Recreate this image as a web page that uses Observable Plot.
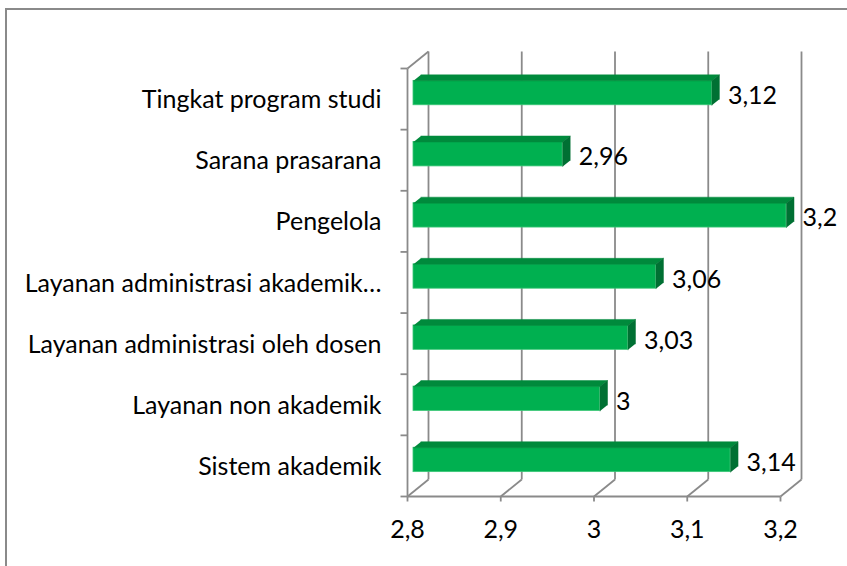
<!DOCTYPE html>
<html>
<head>
<meta charset="utf-8">
<script src="https://cdn.jsdelivr.net/npm/d3@7"></script>
<script src="https://cdn.jsdelivr.net/npm/@observablehq/plot@0.6"></script>
<style>
  html, body { margin: 0; padding: 0; background: #fff; overflow: hidden; }
  #wrap { position: relative; width: 847px; height: 566px; }
  #frame { position: absolute; left: 5px; top: 8px; width: 900px; height: 700px; border: 2px solid #8a8a8a; box-sizing: border-box; }
  #chart { position: absolute; left: 0; top: 0; }
</style>
</head>
<body>
<div id="wrap"><div id="frame"></div><div id="chart"></div></div>
<script>
// Categories listed bottom to top
const categories = ["Sistem akademik", "Layanan non akademik", "Layanan administrasi oleh dosen", "Layanan administrasi akademik…", "Pengelola", "Sarana prasarana", "Tingkat program studi"];
const values = [3.14, 3.00, 3.03, 3.06, 3.20, 2.96, 3.12];
const valueLabels = ["3,14", "3", "3,03", "3,06", "3,2", "2,96", "3,12"];
const xTicks = [2.8, 2.9, 3.0, 3.1, 3.2];
const xTickLabels = ["2,8", "2,9", "3", "3,1", "3,2"];

const W = 847, H = 566;
const mL = 407, mR = 67, mT = 68, mB = 70;
const xMin = 2.8, xMax = 3.2, n = categories.length;
const kx = (W - mL - mR) / (xMax - xMin);   // px per x unit
const ky = (H - mT - mB) / n;               // px per y unit
const px = p => p / kx, py = p => p / ky;

// 3D geometry (pixels converted to data units)
const wdx = px(21), wdy = py(17);   // wall depth
const bx = px(6), by = py(6);       // bar offset into depth
const bdx = px(7.5), bdy = py(6);   // bar depth
const bh = py(12.2);                // half bar thickness

const grid = "#8a8a8a", gw = 1.8;
const font = "Lato, 'Open Sans', sans-serif";
const fs = 25;

const bars = categories.map((c, i) => ({c, v: values[i], label: valueLabels[i], yc: i + 0.5 + by}));

const topFaces = bars.flatMap((d, i) => [
  {x: xMin + bx, y: d.yc + bh, z: i}, {x: d.v + bx, y: d.yc + bh, z: i},
  {x: d.v + bx + bdx, y: d.yc + bh + bdy, z: i}, {x: xMin + bx + bdx, y: d.yc + bh + bdy, z: i}
]);
const sideFaces = bars.flatMap((d, i) => [
  {x: d.v + bx, y: d.yc - bh, z: i}, {x: d.v + bx, y: d.yc + bh, z: i},
  {x: d.v + bx + bdx, y: d.yc + bh + bdy, z: i}, {x: d.v + bx + bdx, y: d.yc - bh + bdy, z: i}
]);
const ticksY = d3.range(n + 1);

const plot = Plot.plot({
  width: W, height: H,
  marginLeft: mL, marginRight: mR, marginTop: mT, marginBottom: mB,
  x: {domain: [xMin, xMax], axis: null},
  y: {domain: [0, n], axis: null},
  style: {background: "transparent", fontFamily: font},
  marks: [
    // back wall gridlines
    Plot.link(xTicks, {x1: t => t + wdx, y1: wdy, x2: t => t + wdx, y2: n + wdy, stroke: grid, strokeWidth: gw}),
    // floor diagonals
    Plot.link(xTicks, {x1: t => t, y1: 0, x2: t => t + wdx, y2: wdy, stroke: grid, strokeWidth: gw}),
    // floor front edge
    Plot.link([0], {x1: xMin, y1: 0, x2: xMax, y2: 0, stroke: grid, strokeWidth: gw}),
    // left wall front edge and top diagonal
    Plot.link([0], {x1: xMin, y1: 0, x2: xMin, y2: n, stroke: grid, strokeWidth: gw}),
    Plot.link([0], {x1: xMin, y1: n, x2: xMin + wdx, y2: n + wdy, stroke: grid, strokeWidth: gw}),
    // left ticks
    Plot.link(ticksY, {x1: xMin - px(7), y1: d => d, x2: xMin, y2: d => d, stroke: grid, strokeWidth: gw}),
    // bottom ticks
    Plot.link(xTicks, {x1: t => t, y1: 0, x2: t => t, y2: -py(5), stroke: grid, strokeWidth: gw}),
    // bars: front face
    Plot.rect(bars, {x1: xMin + bx, x2: d => d.v + bx, y1: d => d.yc - bh, y2: d => d.yc + bh, fill: "#00b050", stroke: "#3cc878", strokeWidth: 0.8}),
    // bars: top face
    Plot.line(topFaces, {x: "x", y: "y", z: "z", fill: "#008a3c", stroke: "#008a3c", strokeWidth: 0.5}),
    // bars: side face
    Plot.line(sideFaces, {x: "x", y: "y", z: "z", fill: "#007033", stroke: "#007033", strokeWidth: 0.5}),
    // category labels
    Plot.text(bars, {x: xMin, y: (d, i) => i + 0.5, text: "c", textAnchor: "end", dx: -26, dy: 1, fontSize: fs, fill: "#000"}),
    // value labels
    Plot.text(bars, {x: "v", y: "yc", text: "label", textAnchor: "start", dx: 22, dy: 3, fontSize: fs, fill: "#000"}),
    // x tick labels
    Plot.text(xTicks, {x: t => t, y: 0, text: (t, i) => xTickLabels[i], textAnchor: "middle", dy: 33, fontSize: fs, fill: "#000"})
  ]
});
document.getElementById("chart").appendChild(plot);
</script>
</body>
</html>
